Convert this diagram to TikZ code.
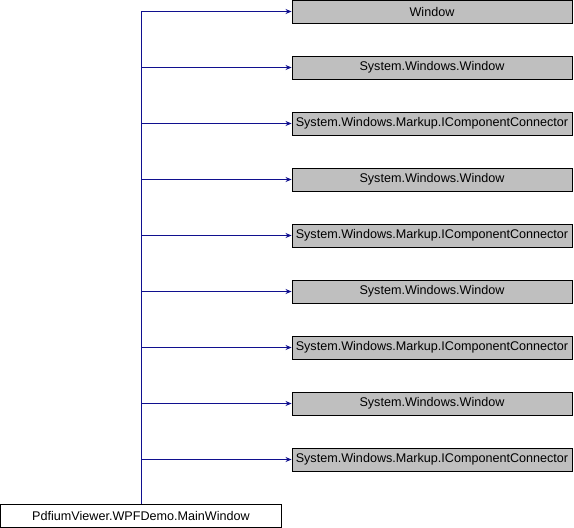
\documentclass[tikz,border=0pt]{standalone}
\usepackage{fontspec}
\setmainfont{Liberation Sans}
\usetikzlibrary{arrows.meta}
\definecolor{edgeblue}{HTML}{10108F}
\definecolor{basegray}{HTML}{BFBFBF}
\begin{document}
\begin{tikzpicture}[
        x=1pt, y=-1pt,
        font=\fontsize{12.6}{14}\selectfont,
        base/.style={draw, line width=0.9pt, fill=basegray, minimum width=280pt, minimum height=23pt, inner sep=0pt}, % базовые классы
        main/.style={draw, line width=0.9pt, fill=white, minimum width=281pt, minimum height=23pt, inner sep=0pt},
        inherit/.style={draw=edgeblue, line width=1pt, -{Stealth[length=6pt,width=5pt]}},
    ]
    \useasboundingbox (0,0) rectangle (574,528);

    \node[main] (mainwin) at (141,515.5) {PdfiumViewer.WPFDemo.MainWindow};

    \foreach \name/\txt [count=\i from 0] in {
            b0/Window,
            b1/System.Windows.Window,
            b2/System.Windows.Markup.IComponentConnector,
            b3/System.Windows.Window,
            b4/System.Windows.Markup.IComponentConnector,
            b5/System.Windows.Window,
            b6/System.Windows.Markup.IComponentConnector,
            b7/System.Windows.Window,
            b8/System.Windows.Markup.IComponentConnector} {
        \node[base] (\name) at (432,11.5+56*\i) {\txt};
        \draw[inherit] (mainwin.north) |- (\name.west);
    }

\end{tikzpicture}
\end{document}
